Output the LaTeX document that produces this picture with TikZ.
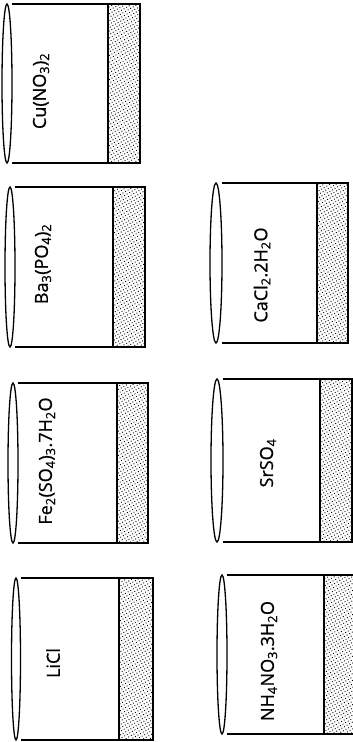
\documentclass[tikz,border=0pt]{standalone}
\usepackage{fontspec}
\setmainfont{Open Sans}
\newfontfamily\lblfont[FakeBold=0.8]{Open Sans}
\usetikzlibrary{patterns.meta}
\newcommand{\chs}[1]{\textsubscript{#1}}
\tikzset{
  wall/.style={line width=1.7pt, line join=miter},
  rim/.style={line width=1.3pt},
  liquid/.style={pattern={Dots[distance=3pt,radius=0.65pt,angle=30]}, pattern color=black},
  lbl/.style={rotate=90, font=\lblfont\fontsize{18}{20}\selectfont, inner sep=0pt}
}
% beaker: cx, ellipse-right, top, bottom, boundary, right
\newcommand{\beaker}[6]{%
  \fill[liquid] (#5,#3) rectangle (#6,#4);
  \draw[wall] (#2,#3) -- (#6,#3) -- (#6,#4) -- (#2,#4);
  \draw[wall] (#5,#3) -- (#5,#4);
  \draw[rim] (#1,{(#3+#4)/2}) ellipse ({#2-#1} and {(#4-#3)/2});
}
\begin{document}
\begin{tikzpicture}[x=1pt,y=-1pt]
\useasboundingbox (0,0) rectangle (353,742);
\clip (0,0) rectangle (353,742);
% left column
\beaker{7}{12}{4}{163}{108}{140}
\beaker{10}{15}{187}{347}{113}{145}
\beaker{13}{18}{383}{543}{117}{148}
\beaker{16}{20.5}{578}{740}{119}{153}
% right column
\beaker{216}{222}{183}{343}{317}{348}
\beaker{217}{223}{379}{542}{320}{352}
\beaker{222}{227}{575}{734}{324}{360}
% labels
\node[lbl] (cu) at (41,91) {Cu(NO\chs{3})\chs{2}};
\node[lbl] (ba) at (43,264) {Ba\chs{3}(PO\chs{4})\chs{2}};
\node[lbl] (fe) at (47,461) {Fe\chs{2}(SO\chs{4})\chs{3}.7H\chs{2}O};
\node[lbl] (li) at (53,663) {LiCl};
\node[lbl] (ca) at (262,275) {CaCl\chs{2}.2H\chs{2}O};
\node[lbl] (sr) at (268,463) {SrSO\chs{4}};
\node[lbl] (nh) at (269,661) {NH\chs{4}NO\chs{3}.3H\chs{2}O};
\end{tikzpicture}
\end{document}
